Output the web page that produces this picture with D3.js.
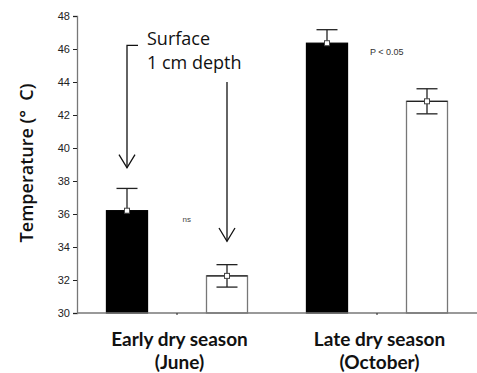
<!DOCTYPE html>
<html>
<head>
<meta charset="utf-8">
<script src="https://cdn.jsdelivr.net/npm/d3@7"></script>
<style>
  body { margin: 0; background: #fff; }
  svg { display: block; }
</style>
</head>
<body>
<div id="chart"></div>
<script>
const width = 477, height = 373;

// data
const bars = ["early-surface", "early-1cm", "late-surface", "late-1cm"];
const means = [36.2, 32.25, 46.35, 42.83];
const errs = [1.35, 0.68, 0.82, 0.76];
const fills = ["#000", "#fff", "#000", "#fff"];
const seasons = ["Early dry season", "Late dry season"];
const months = ["(June)", "(October)"];
const yTicks = [30, 32, 34, 36, 38, 40, 42, 44, 46, 48];

const x = d3.scaleBand().domain(bars).range([77, 477]).paddingInner(0.59).paddingOuter(0.295);
const y = d3.scaleLinear().domain([30, 48]).range([313, 16]);

const svg = d3.select("#chart").append("svg")
  .attr("width", width).attr("height", height);

// bars
svg.selectAll("rect.bar")
  .data(bars)
  .join("rect")
  .attr("class", "bar")
  .attr("x", d => x(d))
  .attr("y", (d, i) => y(means[i]))
  .attr("width", x.bandwidth())
  .attr("height", (d, i) => y(30) - y(means[i]))
  .attr("fill", (d, i) => fills[i])
  .attr("stroke", (d, i) => fills[i] == "#000" ? "#000" : "#777")
  .attr("stroke-width", 1.3);

// darker top edge on white bars
svg.selectAll("line.top")
  .data(bars.filter((d, i) => fills[i] == "#fff"))
  .join("line")
  .attr("x1", d => x(d)).attr("x2", d => x(d) + x.bandwidth())
  .attr("y1", d => y(means[bars.indexOf(d)])).attr("y2", d => y(means[bars.indexOf(d)]))
  .attr("stroke", "#222").attr("stroke-width", 1.3);

// error bars
const eb = svg.selectAll("g.err")
  .data(bars)
  .join("g")
  .attr("class", "err")
  .attr("transform", d => `translate(${x(d) + x.bandwidth() / 2},0)`);

eb.append("line")
  .attr("y1", (d, i) => y(means[i] + errs[i]))
  .attr("y2", (d, i) => fills[i] == "#000" ? y(means[i]) : y(means[i] - errs[i]))
  .attr("stroke", "#222").attr("stroke-width", 1.3);
eb.append("line")
  .attr("x1", -10.5).attr("x2", 10.5)
  .attr("y1", (d, i) => y(means[i] + errs[i])).attr("y2", (d, i) => y(means[i] + errs[i]))
  .attr("stroke", "#222").attr("stroke-width", 1.3);
eb.filter((d, i) => fills[i] == "#fff").append("line")
  .attr("x1", -10.5).attr("x2", 10.5)
  .attr("y1", d => y(means[bars.indexOf(d)] - errs[bars.indexOf(d)]))
  .attr("y2", d => y(means[bars.indexOf(d)] - errs[bars.indexOf(d)]))
  .attr("stroke", "#222").attr("stroke-width", 1.3);
eb.append("rect")
  .attr("x", -2.5).attr("width", 5).attr("height", 5)
  .attr("y", (d, i) => y(means[i]) - 2.5)
  .attr("fill", "#fff").attr("stroke", "#444").attr("stroke-width", 1);

// y axis
const yAxis = svg.append("g")
  .attr("transform", "translate(77,0)")
  .call(d3.axisLeft(y).tickValues(yTicks).tickSize(4).tickPadding(3).tickFormat(d3.format("d")));
yAxis.select(".domain").attr("stroke", "#777").attr("stroke-width", 1.3);
yAxis.selectAll(".tick line").attr("stroke", "#222");
yAxis.selectAll(".tick text")
  .attr("font-family", "Liberation Sans, Arial, sans-serif")
  .attr("font-size", 11).attr("fill", "#222");

// x axis line with small marks between bar pairs
svg.append("line")
  .attr("x1", 77).attr("x2", 477).attr("y1", y(30)).attr("y2", y(30))
  .attr("stroke", "#777").attr("stroke-width", 1.3);
const groupMid = [0, 1].map(g => (x(bars[g * 2]) + x(bars[g * 2 + 1]) + x.bandwidth()) / 2);
svg.selectAll("line.mid")
  .data(groupMid)
  .join("line")
  .attr("x1", d => d).attr("x2", d => d)
  .attr("y1", y(30)).attr("y2", y(30) + 2)
  .attr("stroke", "#222");

// category labels (one text element, two lines)
const lab = svg.selectAll("text.lab")
  .data(seasons)
  .join("text")
  .attr("class", "lab")
  .attr("font-family", "Lato, sans-serif")
  .attr("font-size", 19)
  .attr("font-weight", "bold")
  .attr("fill", "#111")
  .attr("text-anchor", "middle");
lab.append("tspan").attr("x", (d, i) => groupMid[i] + 2.5).attr("y", 346).text(d => d);
lab.append("tspan").attr("x", (d, i) => groupMid[i] + 2.5).attr("y", 369).text((d, i) => months[i]);

// y label
svg.append("text")
  .attr("transform", "translate(33,163) rotate(-90)")
  .attr("text-anchor", "middle")
  .attr("font-family", "Open Sans, sans-serif")
  .attr("font-size", 18)
  .attr("font-weight", 600)
  .attr("fill", "#111")
  .attr("xml:space", "preserve")
  .text("Temperature (\u00b0  C)");

// annotation arrows
const ax1 = x(bars[0]) + x.bandwidth() / 2;
const ax2 = x(bars[1]) + x.bandwidth() / 2;
const ann = svg.append("g").attr("stroke", "#111").attr("stroke-width", 1.3).attr("fill", "none");
ann.append("path").attr("d", `M${ax1 + 11},${y(46.22)}H${ax1}V${y(38.8)}`);
ann.append("path").attr("d", `M${ax1 - 8},${y(39.6)}L${ax1},${y(38.8)}L${ax1 + 8},${y(39.6)}`);
ann.append("path").attr("d", `M${ax2},${y(44)}V${y(34.35)}`);
ann.append("path").attr("d", `M${ax2 - 8},${y(35.15)}L${ax2},${y(34.35)}L${ax2 + 8},${y(35.15)}`);

svg.append("text")
  .attr("x", 147).attr("y", 45)
  .attr("font-family", "Open Sans, sans-serif").attr("font-size", 18).attr("fill", "#111")
  .text("Surface");
svg.append("text")
  .attr("x", 147).attr("y", 69)
  .attr("font-family", "Open Sans, sans-serif").attr("font-size", 18).attr("fill", "#111")
  .text("1 cm depth");

svg.append("text")
  .attr("x", 182.5).attr("y", 221.5)
  .attr("font-family", "Liberation Sans, Arial, sans-serif").attr("font-size", 8).attr("fill", "#444")
  .text("ns");
svg.append("text")
  .attr("x", 370).attr("y", 54.5)
  .attr("font-family", "Liberation Sans, Arial, sans-serif").attr("font-size", 9).attr("fill", "#333")
  .text("P < 0.05");
</script>
</body>
</html>
